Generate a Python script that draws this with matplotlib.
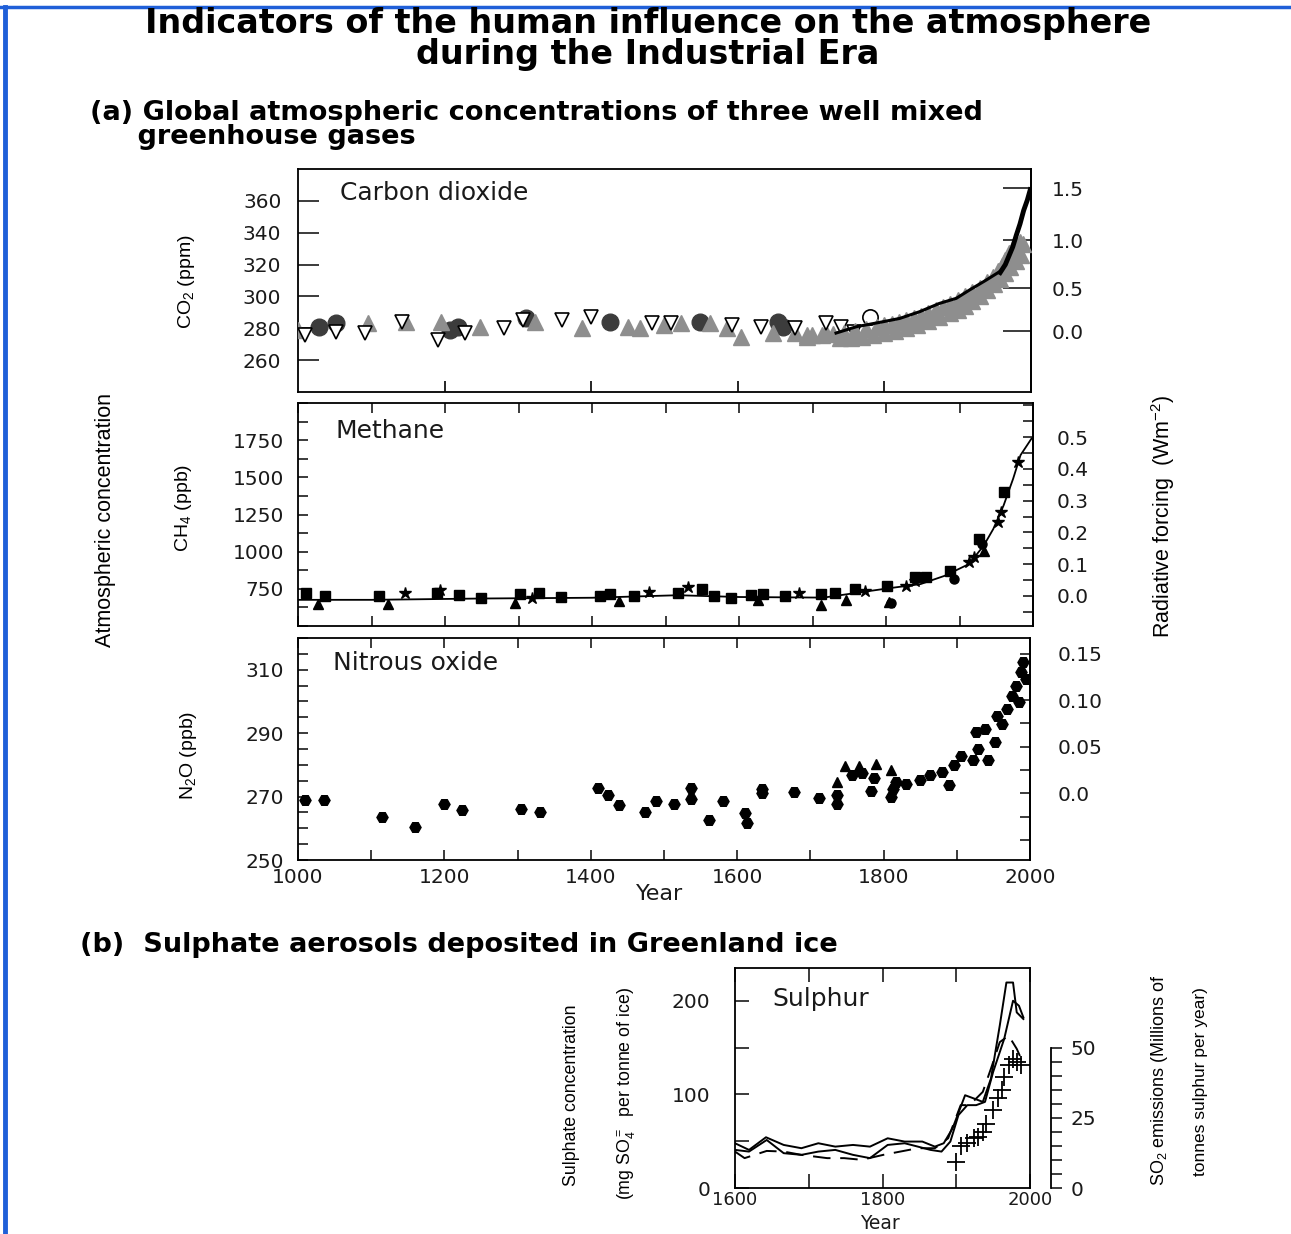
import numpy as np
import matplotlib
matplotlib.use("Agg")
import matplotlib.pyplot as plt
from matplotlib.ticker import MultipleLocator
from matplotlib.lines import Line2D

# ---------------- data ----------------
# (a) CO2 (ppm)
co2_open_year = [1009, 1052, 1092, 1142, 1191, 1228, 1281, 1307, 1360, 1400,
                 1483, 1509, 1592, 1632, 1678, 1721, 1741, 1758]
co2_open_ppm = [275.7, 277.8, 276.8, 284.1, 272.6, 276.8, 279.9, 285.2, 285.2, 287.3,
                283.1, 283.1, 282.0, 281.0, 279.9, 283.1, 281.0, 277.8]
co2_opencirc_year = [1781]
co2_opencirc_ppm = [287.2]
co2_dark_year = [1029, 1052, 1208, 1218, 1311, 1426, 1549, 1655, 1662]
co2_dark_ppm = [281.0, 283.1, 278.9, 281.0, 286.2, 284.1, 284.1, 284.1, 281.0]
co2_gray_year = [1000, 1095, 1148, 1195, 1248, 1324, 1387, 1450, 1466, 1499,
                 1523, 1562, 1585, 1605, 1648, 1678, 1695, 1721]
co2_gray_ppm = [278.9, 283.1, 284.1, 284.1, 281.0, 284.1, 279.9, 281.0, 279.9, 282.0,
                283.1, 283.1, 279.9, 274.7, 276.8, 276.8, 275.7, 276.8]
# dense grey ice-core band of the industrial era (upper and lower rows)
co2_band_year = [1694, 1701, 1715, 1730, 1745, 1760, 1775, 1790, 1800, 1810, 1820,
                 1830, 1840, 1850, 1860, 1870, 1880, 1890, 1900, 1910, 1920, 1930,
                 1940, 1948, 1955, 1960, 1965, 1970, 1975, 1980, 1985, 1989,
                 1740, 1755, 1770, 1785, 1800, 1815, 1830, 1845, 1860, 1875, 1890,
                 1900, 1910, 1920, 1930, 1940, 1950, 1958, 1965, 1972, 1980, 1986]
co2_band_ppm = [274.7, 275.7, 275.5, 276.5, 277.0, 278.0, 279.5, 281.0, 282.0, 283.0, 284.0,
                285.0, 286.5, 288.0, 289.5, 291.5, 293.5, 295.5, 297.5, 300.0, 302.5, 305.5,
                309.0, 312.5, 316.0, 319.0, 323.0, 327.0, 330.5, 333.0, 334.0, 333.0,
                274.0, 274.2, 274.5, 276.0, 277.0, 278.5, 280.0, 282.0, 284.5, 287.0, 289.5,
                291.5, 294.0, 297.0, 300.5, 304.0, 307.5, 311.0, 315.0, 318.5, 322.0, 326.0]
co2_ld_year = [1734, 1762, 1798, 1821, 1848, 1875, 1898, 1916, 1939, 1957]
co2_ld_ppm = [277.0, 281.0, 284.1, 286.2, 290.4, 295.6, 298.8, 304.0, 310.3, 315.5]
co2_ml_year = [1958, 1965, 1970, 1975, 1980, 1985, 1990, 1995, 1999]
co2_ml_ppm = [315.0, 320.0, 325.5, 331.0, 338.5, 345.5, 354.0, 360.5, 367.0]
co2_ticks = [260, 280, 300, 320, 340, 360]
co2_rf_ticks = [0.0, 0.5, 1.0, 1.5]

# CH4 (ppb)
ch4_line_year = [1000, 1100, 1252, 1400, 1517, 1600, 1715, 1801, 1847, 1880, 1913,
                 1933, 1946, 1960, 1973, 1983, 1998]
ch4_line_ppb = [676, 676, 685, 690, 707, 695, 691, 752, 782, 838, 917,
                1041, 1153, 1311, 1491, 1649, 1761]
ch4_sq_year = [1011, 1037, 1110, 1189, 1219, 1249, 1302, 1328, 1358, 1411, 1424, 1457,
               1517, 1550, 1566, 1589, 1616, 1632, 1662, 1712, 1731, 1758, 1801, 1840,
               1854, 1887, 1926, 1960]
ch4_sq_ppb = [725, 703, 703, 725, 707, 691, 714, 725, 696, 703, 714, 703,
              725, 748, 703, 691, 707, 714, 703, 714, 725, 748, 770, 827,
              827, 872, 1086, 1401]
ch4_tri_year = [1027, 1123, 1295, 1437, 1626, 1712, 1745, 1804, 1933]
ch4_tri_ppb = [646, 646, 658, 669, 673, 640, 676, 664, 1007]
ch4_star_year = [1145, 1193, 1318, 1477, 1530, 1682, 1771, 1827, 1840, 1913, 1920,
                 1953, 1956, 1979]
ch4_star_ppb = [725, 741, 691, 730, 759, 725, 736, 766, 804, 928, 962,
                1198, 1266, 1604]
ch4_circ_year = [1807, 1893, 1930]
ch4_circ_ppb = [658, 815, 1052]
ch4_ticks = [750, 1000, 1250, 1500, 1750]
ch4_rf_ticks = [0.0, 0.1, 0.2, 0.3, 0.4, 0.5]

# N2O (ppb)
n2o_year = [1010, 1036, 1115, 1160, 1200, 1224, 1304, 1330, 1410, 1423, 1438, 1474,
            1489, 1514, 1537, 1537, 1562, 1580, 1611, 1613, 1634, 1634, 1677, 1712,
            1737, 1737, 1757, 1770, 1783, 1787, 1810, 1813, 1817, 1830, 1850, 1863,
            1880, 1889, 1896, 1906, 1922, 1929, 1942, 1926, 1939, 1952, 1955, 1962,
            1968, 1975, 1981, 1985, 1988, 1991, 1995]
n2o_ppb = [268.8, 268.8, 263.6, 260.5, 267.8, 265.9, 266.2, 265.2, 272.7, 270.6, 267.3, 265.2,
           268.6, 267.5, 272.7, 269.2, 262.6, 268.6, 264.7, 261.8, 272.5, 271.2, 271.3, 269.6,
           270.6, 267.8, 276.7, 277.5, 271.7, 275.7, 269.9, 272.5, 274.6, 274.1, 275.1, 276.7,
           277.7, 273.6, 279.8, 282.7, 281.4, 285.1, 281.4, 290.5, 291.4, 287.2, 295.5, 292.9,
           297.6, 301.8, 305.0, 299.7, 309.2, 312.3, 307.1]
n2o_tri_year = [1737, 1747, 1767, 1790, 1810]
n2o_tri_ppb = [274.6, 279.6, 279.6, 280.4, 278.3]
n2o_ticks = [250, 270, 290, 310]
n2o_rf_ticks = [0.0, 0.05, 0.10, 0.15]
n2o_rf_labels = ['0.0', '0.05', '0.10', '0.15']

# (b) Sulphate (mg SO4 per tonne of ice) and SO2 emissions (Mt S / yr)
sulA_year = [1600, 1619, 1642, 1666, 1690, 1713, 1736, 1760, 1783, 1807, 1830, 1854,
             1871, 1883, 1895, 1912, 1924, 1936, 1947, 1959, 1968, 1977, 1982, 1991]
sulA_val = [47.8, 40.7, 54.2, 46.0, 42.5, 47.8, 44.2, 46.0, 44.2, 53.1, 49.6, 49.6,
            44.2, 47.8, 63.7, 99.1, 95.6, 92.0, 116.8, 173.5, 219.5, 219.5, 187.6, 180.5]
sulB_year = [1600, 1619, 1643, 1666, 1690, 1713, 1736, 1760, 1783, 1807, 1830, 1848,
             1865, 1880, 1892, 1903, 1915, 1927, 1939, 1950, 1965, 1977, 1985, 1991]
sulB_val = [40.7, 38.9, 51.3, 37.2, 35.4, 38.9, 40.7, 35.4, 31.9, 46.0, 47.8, 44.2,
            40.7, 38.9, 49.6, 77.9, 88.5, 88.5, 92.0, 123.9, 159.3, 200.0, 194.7, 182.3]
sulC_year = [1600, 1613, 1643, 1666, 1690, 1725, 1748, 1772, 1801, 1824, 1848, 1871,
             1889, 1906, 1918, 1936, 1947, 1959, 1971, 1982, 1988]
sulC_val = [38.9, 31.9, 39.6, 38.9, 35.4, 31.9, 31.9, 30.1, 35.4, 38.9, 42.5, 42.5,
            53.1, 88.5, 88.5, 102.7, 127.4, 155.8, 162.8, 148.7, 138.1]
so2_year = [1900, 1906, 1915, 1924, 1930, 1936, 1941, 1950, 1956, 1962, 1965, 1971,
            1977, 1982, 1988]
so2_val = [9.2, 14.8, 16.0, 17.7, 18.3, 20.1, 22.7, 27.8, 31.9, 34.9, 39.6, 43.7,
           46.1, 44.9, 43.7]

# ---------------- figure ----------------
W, H = 1291, 1234
plt.rcParams['font.family'] = ['DejaVu Sans']
plt.rcParams['mathtext.default'] = 'regular'
plt.rcParams['axes.linewidth'] = 1.3

fig = plt.figure(figsize=(W / 100, H / 100), dpi=100)
fig.patch.set_facecolor('white')


def rect(x0, y0, x1, y1):
    return [x0 / W, 1 - y1 / H, (x1 - x0) / W, (y1 - y0) / H]


def ftext(x, y, s, **kw):
    kw.setdefault('ha', 'left')
    kw.setdefault('va', 'center')
    fig.text(x / W, 1 - y / H, s, **kw)


NARROW = ['Liberation Sans Narrow', 'Liberation Sans', 'DejaVu Sans']
TICK = dict(labelsize=14.5, width=1.2, colors='#1a1a1a')
DARK = '#3c3c3c'
GRAY = '#8e8e8e'

# ---- CO2 ----
ax1 = fig.add_axes(rect(298, 169, 1031, 392))
ax1.set_xlim(1000, 2000)
ax1.set_ylim(240, 380)
ax1.plot(co2_dark_year, co2_dark_ppm, 'o', ms=12, color=DARK, zorder=3)
ax1.plot(co2_gray_year, co2_gray_ppm, '^', ms=12, color=GRAY, zorder=4)
ax1.plot(co2_open_year, co2_open_ppm, 'v', ms=10, mfc='white', mec='black', mew=1.2, zorder=5)
ax1.plot(co2_opencirc_year, co2_opencirc_ppm, 'o', ms=11, mfc='white', mec='black', mew=1.2, zorder=5)
ax1.plot(co2_band_year, co2_band_ppm, '^', ms=12, color=GRAY, ls='none', zorder=6)
ax1.plot(co2_ld_year, co2_ld_ppm, '-', color='black', lw=2.2, zorder=7)
ax1.plot(co2_ml_year, co2_ml_ppm, '-', color='black', lw=3.5, zorder=8)
ax1.set_yticks(co2_ticks)
ax1.set_xticks([1200, 1400, 1600, 1800])
ax1.set_xticklabels([])
ax1.tick_params(axis='y', direction='in', length=15, pad=12, **TICK)
ax1.tick_params(axis='x', direction='in', length=8, width=1.2, top=False)


def ppm_to_rf(c):
    return 5.35 * np.log(np.clip(c, 1e-3, None) / 278.0)


def rf_to_ppm(f):
    return 278.0 * np.exp(np.asarray(f) / 5.35)


sec1 = ax1.secondary_yaxis('right', functions=(ppm_to_rf, rf_to_ppm))
sec1.set_yticks(co2_rf_ticks)
sec1.set_yticklabels(['%.1f' % v for v in co2_rf_ticks])
sec1.tick_params(direction='in', length=20, pad=15, **TICK)

# ---- CH4 ----
ax2 = fig.add_axes(rect(298, 403, 1033, 626))
ax2.set_xlim(1000, 2000)
ax2.set_ylim(500, 2000)
ax2.plot(ch4_line_year, ch4_line_ppb, '-', color='black', lw=1.3, zorder=3)
ax2.plot(ch4_sq_year, ch4_sq_ppb, 's', ms=7, color='black', zorder=4)
ax2.plot(ch4_tri_year, ch4_tri_ppb, '^', ms=6.5, color='black', zorder=4)
ax2.plot(ch4_star_year, ch4_star_ppb, '*', ms=9, color='black', zorder=4)
ax2.plot(ch4_circ_year, ch4_circ_ppb, 'o', ms=6.5, color='black', zorder=4)
ax2.set_yticks(ch4_ticks)
ax2.yaxis.set_minor_locator(MultipleLocator(125))
ax2.xaxis.set_major_locator(MultipleLocator(200))
ax2.xaxis.set_minor_locator(MultipleLocator(100))
ax2.tick_params(which='both', direction='in', length=7, top=True,
                labelbottom=False, **TICK)
ax2.tick_params(axis='y', pad=10)

sec2 = ax2.secondary_yaxis('right', functions=(lambda p: (np.asarray(p) - 703.0) / 2134.0,
                                               lambda f: np.asarray(f) * 2134.0 + 703.0))
sec2.set_yticks(ch4_rf_ticks)
sec2.set_yticklabels(['%.1f' % v for v in ch4_rf_ticks])
sec2.yaxis.set_minor_locator(MultipleLocator(0.05))
sec2.tick_params(which='both', direction='in', length=7, pad=17, **TICK)

# ---- N2O ----
ax3 = fig.add_axes(rect(298, 638, 1030, 860))
ax3.set_xlim(1000, 2000)
ax3.set_ylim(250, 320)
ax3.plot(n2o_year, n2o_ppb, 'H', ms=8, color='black', ls='none', zorder=4)
ax3.plot(n2o_tri_year, n2o_tri_ppb, '^', ms=6.5, color='black', ls='none', zorder=4)
ax3.set_yticks(n2o_ticks)
ax3.yaxis.set_minor_locator(MultipleLocator(5))
ax3.xaxis.set_major_locator(MultipleLocator(200))
ax3.xaxis.set_minor_locator(MultipleLocator(100))
ax3.tick_params(which='both', direction='in', length=7, top=True, **TICK)
ax3.tick_params(axis='y', pad=10)
ax3.tick_params(axis='x', pad=6)

sec3 = ax3.secondary_yaxis('right', functions=(lambda p: (np.asarray(p) - 271.0) / 294.0,
                                               lambda f: np.asarray(f) * 294.0 + 271.0))
sec3.set_yticks(n2o_rf_ticks)
sec3.set_yticklabels(n2o_rf_labels)
sec3.yaxis.set_minor_locator(MultipleLocator(0.025))
sec3.tick_params(which='both', direction='in', length=7, pad=20, **TICK)

# ---- Sulphur ----
ax4 = fig.add_axes(rect(735, 968, 1030, 1188))
ax4.set_xlim(1600, 2000)
ax4.set_ylim(0, 235)
ax4.plot(sulA_year, sulA_val, '-', color='black', lw=1.4)
ax4.plot(sulB_year, sulB_val, '-', color='black', lw=1.4)
ax4.plot(sulC_year, sulC_val, '-', color='black', lw=1.4, dashes=(9, 5))
ax4.set_xticks([1600, 1700, 1800, 1900, 2000])
ax4.set_xticklabels(['1600', '', '1800', '', '2000'])
ax4.set_yticks([0, 50, 100, 150, 200])
ax4.set_yticklabels(['0', '', '100', '', '200'])
ax4.tick_params(direction='in', length=10, top=True, **TICK)
ax4.tick_params(axis='y', pad=18)
ax4.tick_params(axis='x', pad=2, labelsize=13)

ax5 = ax4.twinx()
ax5.set_ylim(0, 235 * 50 / 150)
for s in ['top', 'bottom', 'left']:
    ax5.spines[s].set_visible(False)
ax5.spines['right'].set_position(('outward', 15))
ax5.spines['right'].set_bounds(0, 50)
ax5.set_yticks(np.arange(0, 55, 5))
ax5.set_yticklabels(['0' if v == 0 else ('25' if v == 25 else ('50' if v == 50 else ''))
                     for v in np.arange(0, 55, 5)])
ax5.tick_params(axis='y', direction='out', length=8, pad=6, **TICK)
ax5.plot(so2_year, so2_val, '+', ms=13, mew=1.3, color='black', ls='none')

# ---------------- texts ----------------
ftext(648, 39, 'Indicators of the human influence on the atmosphere\nduring the Industrial Era',
      ha='center', multialignment='center', fontsize=24, weight='bold', linespacing=0.93)
ftext(90, 125, '(a) Global atmospheric concentrations of three well mixed\n'
      '     greenhouse gases', fontsize=19.5, weight='bold', linespacing=0.92)
ftext(80, 945, '(b)  Sulphate aerosols deposited in Greenland ice',
      fontsize=19.5, weight='bold')

ftext(340, 193, 'Carbon dioxide', fontsize=18, color='#1a1a1a')
ftext(335, 431, 'Methane', fontsize=18, color='#1a1a1a')
ftext(333, 663, 'Nitrous oxide', fontsize=18, color='#1a1a1a')
ftext(772, 999, 'Sulphur', fontsize=18, color='#1a1a1a')

ftext(105, 520, 'Atmospheric concentration', rotation=90, ha='center', family=NARROW,
      fontsize=15.5)
ftext(186, 282, 'CO$_2$ (ppm)', rotation=90, ha='center', family=NARROW, fontsize=14)
ftext(183, 508, 'CH$_4$ (ppb)', rotation=90, ha='center', family=NARROW, fontsize=14)
ftext(188, 755, 'N$_2$O (ppb)', rotation=90, ha='center', family=NARROW, fontsize=14)
ftext(1163, 516, 'Radiative forcing  (Wm$^{-2}$)', rotation=90, ha='center',
      family=NARROW, fontsize=15.5)
ftext(660, 894, 'Year', ha='center', fontsize=16, color='#1a1a1a')
ftext(880, 1223.5, 'Year', ha='center', fontsize=13.5, color='#1a1a1a')

ftext(572, 1095, 'Sulphate concentration', rotation=90, ha='center', family=NARROW,
      fontsize=12.8)
ftext(627, 1093, '(mg SO$_4^=$  per tonne of ice)', rotation=90, ha='center',
      family=NARROW, fontsize=12.8)
ftext(1160, 1080, 'SO$_2$ emissions (Millions of', rotation=90, ha='center',
      family=NARROW, fontsize=13)
ftext(1200, 1082, 'tonnes sulphur per year)', rotation=90, ha='center',
      family=NARROW, fontsize=12.5)

# blue frame
BLUE = '#1f5fd8'
fig.add_artist(Line2D([0, 1], [1 - 7 / H, 1 - 7 / H], color=BLUE, lw=2.5,
                      transform=fig.transFigure))
fig.add_artist(Line2D([5 / W, 5 / W], [0, 1 - 7 / H], color=BLUE, lw=3.5,
                      transform=fig.transFigure))

fig.savefig('out.png', dpi=100, facecolor='white')
